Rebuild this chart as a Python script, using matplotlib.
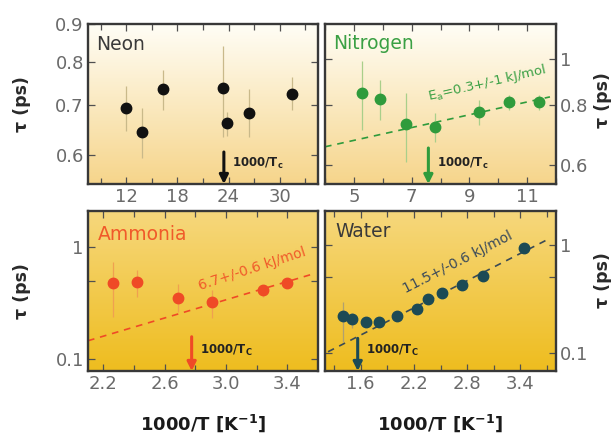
import numpy as np
import matplotlib
matplotlib.use("Agg")
import matplotlib.pyplot as plt
from matplotlib.ticker import FixedLocator, NullLocator, FixedFormatter

plt.rcParams['font.family'] = ['DejaVu Sans']

# ---------------- data ----------------
neon_x = [12.0, 13.8, 16.3, 23.3, 23.85, 26.4, 31.4]
neon_tau = [0.694, 0.643, 0.735, 0.738, 0.662, 0.683, 0.725]
neon_lo = [0.646, 0.594, 0.690, 0.633, 0.636, 0.633, 0.690]
neon_hi = [0.742, 0.694, 0.781, 0.840, 0.685, 0.735, 0.764]
neon_tc = 23.45

n2_x = [5.29, 5.90, 6.81, 7.81, 9.33, 10.37, 11.41]
n2_tau = [0.848, 0.826, 0.730, 0.720, 0.774, 0.812, 0.813]
n2_lo = [0.710, 0.745, 0.609, 0.671, 0.727, 0.782, 0.782]
n2_hi = [0.992, 0.905, 0.848, 0.770, 0.821, 0.841, 0.841]
n2_fit_x = [4.0, 11.79]
n2_fit_tau = [0.655, 0.834]
n2_tc = 7.58

nh3_x = [2.265, 2.42, 2.685, 2.907, 3.243, 3.40]
nh3_tau = [0.482, 0.489, 0.353, 0.321, 0.414, 0.479]
nh3_lo = [0.238, 0.360, 0.264, 0.230, 0.360, 0.432]
nh3_hi = [0.745, 0.627, 0.466, 0.414, 0.459, 0.531]
nh3_fit_x = [2.1, 3.567]
nh3_fit_tau = [0.1446, 0.577]
nh3_tc = 2.776

h2o_x = [1.40, 1.50, 1.658, 1.808, 2.014, 2.232, 2.363, 2.517, 2.739, 2.975, 3.44]
h2o_tau = [0.221, 0.204, 0.194, 0.194, 0.221, 0.253, 0.315, 0.361, 0.422, 0.512, 0.932]
h2o_lo = [0.1265, 0.17, 0.194, 0.194, 0.221, 0.253, 0.315, 0.361, 0.422, 0.512, 0.932]
h2o_hi = [0.294, 0.234, 0.194, 0.194, 0.221, 0.253, 0.315, 0.361, 0.422, 0.512, 0.932]
h2o_fit_x = [1.234, 3.732]
h2o_fit_tau = [0.102, 1.154]
h2o_tc = 1.568

W, H = 616, 434
fig = plt.figure(figsize=(W / 100, H / 100), dpi=100)

def rect(l, t, r, b):
    return [l / W, 1 - b / H, (r - l) / W, (b - t) / H]

top_grad = ((1.0, 0.995, 0.965), (0.965, 0.835, 0.545))
bot_grad = ((0.965, 0.845, 0.49), (0.935, 0.74, 0.12))

def make_axes(r, grad):
    bg = fig.add_axes(r, zorder=0)
    c0 = np.array(grad[0]); c1 = np.array(grad[1])
    t = np.linspace(0, 1, 256)[:, None]
    img = (c0[None, :] * (1 - t) + c1[None, :] * t)[:, None, :]
    bg.imshow(img, aspect='auto', extent=[0, 1, 0, 1], origin='upper')
    bg.set_axis_off()
    ax = fig.add_axes(r, zorder=1)
    ax.set_facecolor('none')
    for s in ax.spines.values():
        s.set_color('#383838')
        s.set_linewidth(1.7)
    ax.tick_params(which='both', direction='in', top=True, right=True,
                   bottom=True, left=True, color='#505050', width=0.9,
                   labelsize=13, labelcolor='#6a6a6a', pad=3)
    ax.tick_params(which='major', length=5)
    ax.tick_params(which='minor', length=4)
    return ax

ax1 = make_axes(rect(88, 24, 318, 184), top_grad)
ax2 = make_axes(rect(325, 24, 556, 184), top_grad)
ax3 = make_axes(rect(88, 211, 318, 371), bot_grad)
ax4 = make_axes(rect(325, 211, 556, 371), bot_grad)

def plot_pts(ax, x, tau, lo, hi, color, ecolor):
    tau = np.array(tau)
    yerr = [tau - np.array(lo), np.array(hi) - tau]
    ax.errorbar(x, tau, yerr=yerr, fmt='o', ms=7.5, color=color,
                ecolor=ecolor, elinewidth=0.9, capsize=0, zorder=3)

def arrow(ax, x, color, label, frac=0.21):
    ax.annotate('', xy=(x, 0.0), xytext=(x, frac),
                xycoords=('data', 'axes fraction'),
                textcoords=('data', 'axes fraction'),
                arrowprops=dict(arrowstyle='-|>', lw=2.2, color=color,
                                mutation_scale=13, shrinkA=0, shrinkB=0),
                zorder=4)
    ax.annotate(label, xy=(x, 0.13), xycoords=('data', 'axes fraction'),
                xytext=(6, 0), textcoords='offset points',
                fontsize=8.5, fontweight='bold', color='#222222',
                va='center', ha='left')

# ---- Neon ----
ax1.set_yscale('log')
plot_pts(ax1, neon_x, neon_tau, neon_lo, neon_hi, '#111111', '#c9b98a')
ax1.set_xlim(7.5, 34.5)
ax1.set_ylim(0.548, 0.9)
ax1.xaxis.set_major_locator(FixedLocator([12, 18, 24, 30]))
ax1.xaxis.set_minor_locator(FixedLocator([9, 15, 21, 27, 33]))
ax1.yaxis.set_major_locator(FixedLocator([0.6, 0.7, 0.8, 0.9]))
ax1.yaxis.set_major_formatter(FixedFormatter(['0.6', '0.7', '0.8', '0.9']))
ax1.yaxis.set_minor_locator(NullLocator())
ax1.text(0.035, 0.87, 'Neon', transform=ax1.transAxes, fontsize=13.5,
         color='#3a3a3a', va='center', ha='left')
arrow(ax1, neon_tc, '#111111', r'1000/T$_{\mathbf{c}}$', 0.2)

# ---- Nitrogen ----
green = '#2f9b3c'
ax2.set_yscale('log')
plot_pts(ax2, n2_x, n2_tau, n2_lo, n2_hi, green, '#a9cf8a')
ax2.plot(n2_fit_x, n2_fit_tau, ls=(0, (4, 3.5)), color=green, lw=1.2, zorder=2)
ax2.set_xlim(4, 12)
ax2.set_ylim(0.547, 1.187)
ax2.xaxis.set_major_locator(FixedLocator([5, 7, 9, 11]))
ax2.xaxis.set_minor_locator(FixedLocator([4, 6, 8, 10, 12]))
ax2.yaxis.set_major_locator(FixedLocator([0.6, 0.8, 1.0]))
ax2.yaxis.set_major_formatter(FixedFormatter(['0.6', '0.8', '1']))
ax2.yaxis.set_minor_locator(NullLocator())
ax2.tick_params(axis='y', labelleft=False, labelright=True)
ax2.text(0.036, 0.88, 'Nitrogen', transform=ax2.transAxes, fontsize=13.5,
         color='#3aa044', va='center', ha='left')
ax2.text(0.70, 0.63, r'E$_\mathrm{a}$=0.3+/-1 kJ/mol', transform=ax2.transAxes,
         fontsize=9.5, color='#3aa044', rotation=13, ha='center', va='center')
arrow(ax2, n2_tc, green, r'1000/T$_{\mathbf{c}}$', 0.225)

# ---- Ammonia ----
orange = '#ef4a26'
ax3.set_yscale('log')
plot_pts(ax3, nh3_x, nh3_tau, nh3_lo, nh3_hi, orange, '#f0a050')
ax3.plot(nh3_fit_x, nh3_fit_tau, ls=(0, (4, 3.5)), color=orange, lw=1.2, zorder=2)
ax3.set_xlim(2.1, 3.6)
ax3.set_ylim(0.0772, 2.13)
ax3.xaxis.set_major_locator(FixedLocator([2.2, 2.6, 3.0, 3.4]))
ax3.xaxis.set_major_formatter(FixedFormatter(['2.2', '2.6', '3.0', '3.4']))
ax3.xaxis.set_minor_locator(FixedLocator([2.4, 2.8, 3.2]))
ax3.yaxis.set_major_locator(FixedLocator([0.1, 0.5, 1.0]))
ax3.yaxis.set_major_formatter(FixedFormatter(['0.1', '', '1']))
ax3.yaxis.set_minor_locator(NullLocator())
ax3.text(0.043, 0.85, 'Ammonia', transform=ax3.transAxes, fontsize=13.5,
         color='#f05a2a', va='center', ha='left')
ax3.text(0.715, 0.64, '6.7+/-0.6 kJ/mol', transform=ax3.transAxes,
         fontsize=10, color='#f05a2a', rotation=18, ha='center', va='center')
arrow(ax3, nh3_tc, orange, r'1000/T$_{\mathbf{C}}$', 0.214)
ax3.set_xlabel('1000/T [K$^{\mathbf{-1}}$]', fontsize=13, fontweight='bold',
               color='#1a1a1a', labelpad=14)

# ---- Water ----
teal = '#1c4a55'
ax4.set_yscale('log')
plot_pts(ax4, h2o_x, h2o_tau, h2o_lo, h2o_hi, teal, '#b0a070')
ax4.plot(h2o_fit_x, h2o_fit_tau, ls=(0, (4, 3.5)), color='#3a4a55', lw=1.2, zorder=2)
ax4.set_xlim(1.2, 3.8)
ax4.set_ylim(0.0676, 2.07)
ax4.xaxis.set_major_locator(FixedLocator([1.6, 2.2, 2.8, 3.4]))
ax4.xaxis.set_major_formatter(FixedFormatter(['1.6', '2.2', '2.8', '3.4']))
ax4.xaxis.set_minor_locator(FixedLocator([1.3, 1.9, 2.5, 3.1, 3.7]))
ax4.yaxis.set_major_locator(FixedLocator([0.1, 0.5, 1.0]))
ax4.yaxis.set_major_formatter(FixedFormatter(['0.1', '', '1']))
ax4.yaxis.set_minor_locator(NullLocator())
ax4.tick_params(axis='y', labelleft=False, labelright=True)
ax4.text(0.043, 0.87, 'Water', transform=ax4.transAxes, fontsize=13.5,
         color='#3a3a3a', va='center', ha='left')
ax4.text(0.575, 0.68, '11.5+/-0.6 kJ/mol', transform=ax4.transAxes,
         fontsize=10, color='#3a4a5a', rotation=27, ha='center', va='center')
arrow(ax4, h2o_tc, teal, r'1000/T$_{\mathbf{C}}$', 0.204)
ax4.set_xlabel('1000/T [K$^{\mathbf{-1}}$]', fontsize=13, fontweight='bold',
               color='#1a1a1a', labelpad=14)

# y labels
for (x, y) in [(22, 104), (22, 291), (603, 100), (603, 280)]:
    fig.text(x / W, 1 - y / H, 'τ (ps)', rotation=90, fontsize=12.5,
             fontweight='bold', color='#2a2a2a', ha='center', va='center')

fig.savefig('out.png', dpi=100)
